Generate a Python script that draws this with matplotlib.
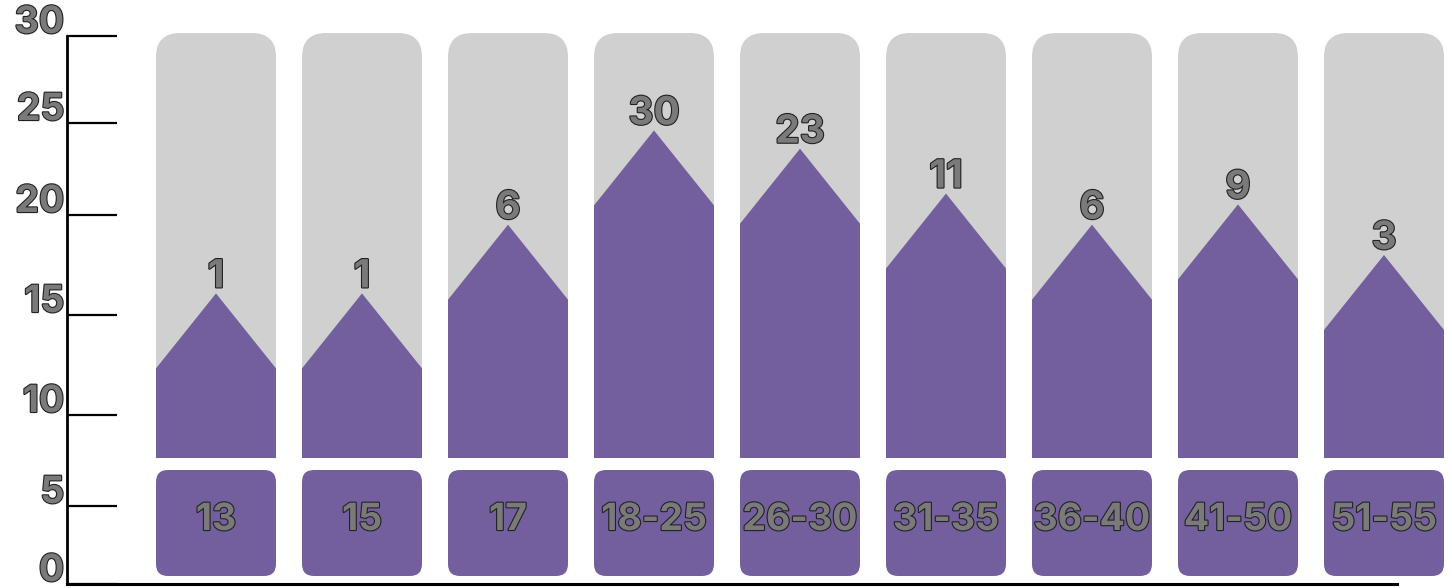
import numpy as np
import matplotlib
matplotlib.use("Agg")
import matplotlib.pyplot as plt
from matplotlib.patches import FancyBboxPatch, Polygon
from matplotlib.transforms import ScaledTranslation
import matplotlib.patheffects as pe

# ---- data ----
age_groups = ["13", "15", "17", "18-25", "26-30", "31-35", "36-40", "41-50", "51-55"]
counts = [1, 1, 6, 30, 23, 11, 6, 9, 3]
axis_ticks = [0, 5, 10, 15, 20, 25, 30]

# ---- style ----
PURPLE = "#735f9e"
GRAY = "#d0d0d0"
TEXT_FILL = "#7a7a7a"
TEXT_EDGE = "#222222"
FONT = ["Inter", "DejaVu Sans"]

W, H = 1452, 588
fig = plt.figure(figsize=(W / 100, H / 100), dpi=100)

outline = [pe.withStroke(linewidth=1.6, foreground=TEXT_EDGE)]

# canvas axes in pixel units (y grows upward)
ax = fig.add_axes([0, 0, 1, 1])
ax.set_xlim(0, W)
ax.set_ylim(0, H)
ax.axis("off")

# y axis drawn on its own axes; tick spacing follows a piecewise scale
ax_bottom_px, ax_top_px = 4, 552
tick_heights = np.array([0, 78, 169, 269, 369, 461, 548]) / 548.0
tick_vals = np.array(axis_ticks, dtype=float)


def fwd(v):
    return np.interp(v, tick_vals, tick_heights)


def inv(u):
    return np.interp(u, tick_heights, tick_vals)


axy = fig.add_axes([67 / W, ax_bottom_px / H, (1397 - 67) / W, (ax_top_px - ax_bottom_px) / H])
axy.patch.set_alpha(0)
axy.set_yscale("function", functions=(fwd, inv))
axy.set_ylim(0, 30)
axy.set_xlim(0, 1)
axy.set_yticks(axis_ticks)
axy.set_xticks([])
for s in ("top", "right"):
    axy.spines[s].set_visible(False)
axy.spines["left"].set_linewidth(2.0)
axy.spines["bottom"].set_linewidth(2.2)
axy.tick_params(axis="y", direction="in", length=36, width=1.6, pad=2,
                labelsize=27, colors="black", labelcolor=TEXT_FILL)
lift = ScaledTranslation(0, 3 / 100, fig.dpi_scale_trans)
for lab in axy.get_yticklabels():
    lab.set_fontfamily(FONT)
    lab.set_fontweight("bold")
    lab.set_verticalalignment("baseline")
    lab.set_path_effects(outline)
    lab.set_transform(lab.get_transform() + lift)
axy.set_zorder(3)
ax.set_zorder(1)

# column layout (pixels)
x_first, step, col_w = 216, 146, 120
base = 130          # bottom of the column
col_top = 555       # top of the gray column
box_lo, box_hi = 12, 118
tri_h = 75


def peak_height(v):
    return base + 43 + 121.6 * v ** 0.25


for i, (grp, n) in enumerate(zip(age_groups, counts)):
    xc = x_first + i * step
    xl, xr = xc - col_w / 2, xc + col_w / 2
    ax.add_patch(FancyBboxPatch((xl, base), col_w, col_top - base,
                                boxstyle="round,pad=0,rounding_size=24",
                                fc=GRAY, ec="none", zorder=1))
    pk = peak_height(n)
    sh = pk - tri_h
    ax.add_patch(Polygon([(xl, base), (xr, base), (xr, sh), (xc, pk), (xl, sh)],
                         closed=True, fc=PURPLE, ec="none", zorder=2))
    ax.text(xc, pk + 6, str(n), ha="center", va="baseline", fontsize=28,
            fontfamily=FONT, fontweight="bold", color=TEXT_FILL,
            path_effects=outline, zorder=4)
    ax.add_patch(FancyBboxPatch((xl, box_lo), col_w, box_hi - box_lo,
                                boxstyle="round,pad=0,rounding_size=12",
                                fc=PURPLE, ec="none", zorder=2))
    ax.text(xc, 58, grp, ha="center", va="baseline", fontsize=27,
            fontfamily=FONT, fontweight="bold", color=TEXT_FILL,
            path_effects=outline, zorder=4)

fig.savefig("out.png", dpi=100)
